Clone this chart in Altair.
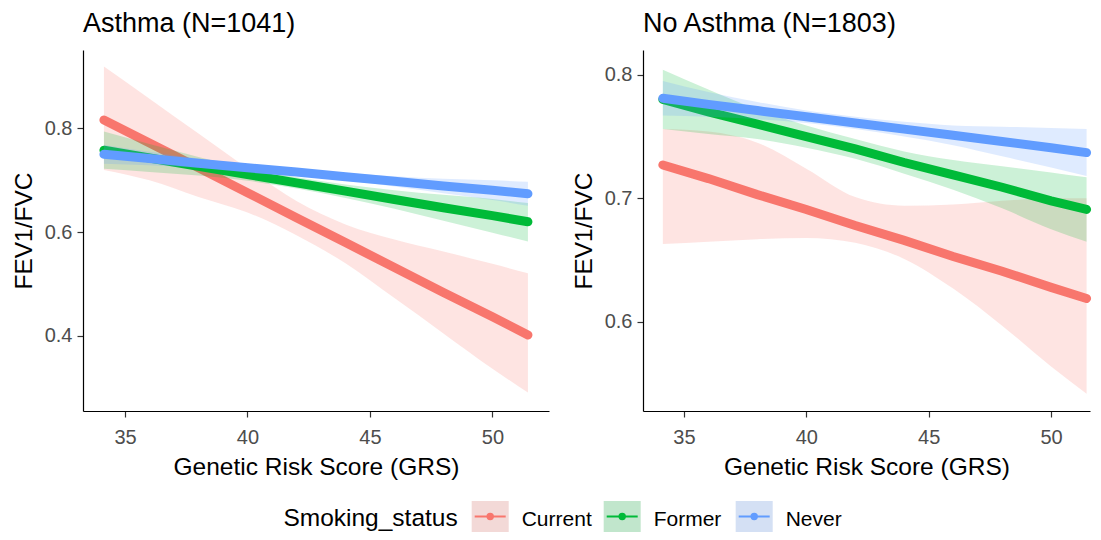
import altair as alt
import pandas as pd

FONT = "Liberation Sans"

GRS = [34.14, 36, 38, 40, 42, 44, 46, 48, 50, 51.45]
STATUS = ["Current", "Former", "Never"]
COLORS = ["#F8766D", "#00BA38", "#619CFF"]
PANELS = ["Asthma (N=1041)", "No Asthma (N=1803)"]

# ---- Asthma panel ----
A_CUR_FIT = [0.816, 0.772, 0.724, 0.676, 0.628, 0.580, 0.532, 0.484, 0.437, 0.402]
A_CUR_LO = [0.720, 0.700, 0.668, 0.638, 0.594, 0.540, 0.473, 0.405, 0.337, 0.291]
A_CUR_HI = [0.919, 0.857, 0.790, 0.723, 0.660, 0.615, 0.586, 0.563, 0.539, 0.521]

A_FOR_FIT = [0.758, 0.743, 0.727, 0.711, 0.695, 0.679, 0.663, 0.647, 0.632, 0.620]
A_FOR_LO = [0.722, 0.716, 0.709, 0.699, 0.684, 0.666, 0.645, 0.622, 0.599, 0.582]
A_FOR_HI = [0.794, 0.770, 0.745, 0.723, 0.706, 0.692, 0.681, 0.672, 0.664, 0.656]

A_NEV_FIT = [0.750, 0.742, 0.733, 0.724, 0.716, 0.707, 0.698, 0.689, 0.681, 0.674]
A_NEV_LO = [0.732, 0.729, 0.724, 0.717, 0.710, 0.700, 0.688, 0.675, 0.662, 0.651]
A_NEV_HI = [0.768, 0.755, 0.742, 0.731, 0.722, 0.714, 0.708, 0.703, 0.700, 0.697]

# ---- No Asthma panel ----
N_CUR_FIT = [0.727, 0.716, 0.703, 0.691, 0.678, 0.666, 0.653, 0.641, 0.628, 0.619]
N_CUR_LO = [0.663, 0.665, 0.667, 0.668, 0.664, 0.651, 0.627, 0.597, 0.564, 0.542]
N_CUR_HI = [0.756, 0.754, 0.745, 0.724, 0.701, 0.694, 0.695, 0.698, 0.700, 0.700]

N_FOR_FIT = [0.780, 0.770, 0.760, 0.750, 0.740, 0.729, 0.719, 0.709, 0.698, 0.691]
N_FOR_LO = [0.756, 0.752, 0.748, 0.741, 0.732, 0.720, 0.707, 0.692, 0.675, 0.665]
N_FOR_HI = [0.804, 0.788, 0.772, 0.759, 0.748, 0.738, 0.731, 0.726, 0.721, 0.717]

N_NEV_FIT = [0.781, 0.776, 0.771, 0.766, 0.761, 0.756, 0.751, 0.746, 0.741, 0.737]
N_NEV_LO = [0.767, 0.766, 0.764, 0.761, 0.756, 0.750, 0.743, 0.734, 0.725, 0.718]
N_NEV_HI = [0.795, 0.786, 0.778, 0.771, 0.766, 0.762, 0.759, 0.758, 0.757, 0.756]

X_TICKS = [35, 40, 45, 50]
A_Y_TICKS = [0.4, 0.6, 0.8]
N_Y_TICKS = [0.6, 0.7, 0.8]


def panel_df(fits, los, his):
    rows = []
    for s, f, l, h in zip(STATUS, fits, los, his):
        for x, a, b, c in zip(GRS, f, l, h):
            rows.append(dict(status=s, grs=x, fit=a, lo=b, hi=c))
    return pd.DataFrame(rows)


df_a = panel_df([A_CUR_FIT, A_FOR_FIT, A_NEV_FIT],
                [A_CUR_LO, A_FOR_LO, A_NEV_LO],
                [A_CUR_HI, A_FOR_HI, A_NEV_HI])
df_n = panel_df([N_CUR_FIT, N_FOR_FIT, N_NEV_FIT],
                [N_CUR_LO, N_FOR_LO, N_NEV_LO],
                [N_CUR_HI, N_FOR_HI, N_NEV_HI])

cscale = alt.Scale(domain=STATUS, range=COLORS)


def panel(df, title, xdom, ydom, yticks, width, height):
    xs = alt.Scale(domain=xdom, nice=False, zero=False)
    ys = alt.Scale(domain=ydom, nice=False, zero=False)
    xaxis = alt.Axis(values=X_TICKS, labelPadding=10, titlePadding=8)
    yaxis = alt.Axis(values=yticks, format=".1f", titlePadding=8)
    layers = []
    for s in STATUS:
        base = alt.Chart(df).transform_filter(alt.datum.status == s)
        band = base.mark_area(opacity=0.2, interpolate="monotone").encode(
            x=alt.X("grs:Q", scale=xs, axis=xaxis, title="Genetic Risk Score (GRS)"),
            y=alt.Y("lo:Q", scale=ys, axis=yaxis, title="FEV1/FVC"),
            y2="hi:Q",
            color=alt.Color("status:N", scale=cscale, legend=None),
        )
        line = base.mark_line(strokeWidth=9, strokeCap="round").encode(
            x=alt.X("grs:Q", scale=xs, axis=xaxis, title="Genetic Risk Score (GRS)"),
            y=alt.Y("fit:Q", scale=ys, axis=yaxis, title="FEV1/FVC"),
            color=alt.Color("status:N", scale=cscale, legend=None),
        )
        layers += [band, line]
    return alt.layer(*layers).properties(
        width=width, height=height,
        title=alt.TitleParams(title, anchor="start", frame="group", fontSize=27,
                              font=FONT, fontWeight="normal", color="#000000",
                              offset=12),
    )


left = panel(df_a, PANELS[0], [33.285, 52.31], [0.2555, 0.951], A_Y_TICKS, 466, 361)
right = panel(df_n, PANELS[1], [33.33, 51.59], [0.528, 0.820], N_Y_TICKS, 447, 361)

top = alt.hconcat(left, right, spacing=22)

# ---- custom legend (ggplot style keys), positioned from the left plot origin ----
LEG_X0 = 388.7
LEG_STEP = 132
BOX_W = 37
BOX_H = 31
leg = pd.DataFrame({"status": STATUS, "i": list(range(len(STATUS)))})
leg["x0"] = LEG_X0 + leg["i"] * LEG_STEP
leg["x1"] = leg["x0"] + BOX_W
leg["xm"] = leg["x0"] + BOX_W / 2
leg["xl0"] = leg["x0"] + 3
leg["xl1"] = leg["x1"] - 3
leg["xt"] = leg["x1"] + 13
leg_title = pd.DataFrame({"t": ["Smoking_status"]})

lbase = alt.Chart(leg)
key_bg = lbase.mark_rect(color="#F2F2F2").encode(
    x=alt.X("x0:Q", scale=None), x2="x1:Q", y=alt.value(0), y2=alt.value(BOX_H))
key_fill = lbase.mark_rect(opacity=0.2).encode(
    x=alt.X("x0:Q", scale=None), x2="x1:Q", y=alt.value(0), y2=alt.value(BOX_H),
    color=alt.Color("status:N", scale=cscale, legend=None))
key_line = lbase.mark_rule(strokeWidth=2).encode(
    x=alt.X("xl0:Q", scale=None), x2="xl1:Q", y=alt.value(BOX_H / 2),
    color=alt.Color("status:N", scale=cscale, legend=None))
key_pt = lbase.mark_circle(size=55, opacity=1).encode(
    x=alt.X("xm:Q", scale=None), y=alt.value(BOX_H / 2),
    color=alt.Color("status:N", scale=cscale, legend=None))
key_txt = lbase.mark_text(align="left", baseline="alphabetic", fontSize=21,
                          font=FONT, color="#000000").encode(
    x=alt.X("xt:Q", scale=None), y=alt.value(25), text="status:N")
ttl = alt.Chart(leg_title).mark_text(align="left", baseline="alphabetic", fontSize=24.5,
                                     font=FONT, color="#000000").encode(
    x=alt.value(200.4), y=alt.value(25), text="t:N")

legend = alt.layer(key_bg, key_fill, key_line, key_pt, key_txt, ttl).properties(
    width=700, height=BOX_H)

chart = alt.vconcat(top, legend, spacing=22).properties(
    padding={"left": 3, "top": 2, "right": -13, "bottom": 0},
    background="#FFFFFF",
).configure_view(stroke=None).configure_axis(
    domainColor="#000000", domainWidth=1.2, tickColor="#333333", tickWidth=1.2,
    tickSize=6, labelFont=FONT, labelFontSize=20, labelColor="#4D4D4D",
    labelPadding=5, titleFont=FONT, titleFontSize=24.5, titleFontWeight="normal",
    titleColor="#000000", grid=False,
)

chart.save("out.html", embed_options={"renderer": "svg", "actions": False})
